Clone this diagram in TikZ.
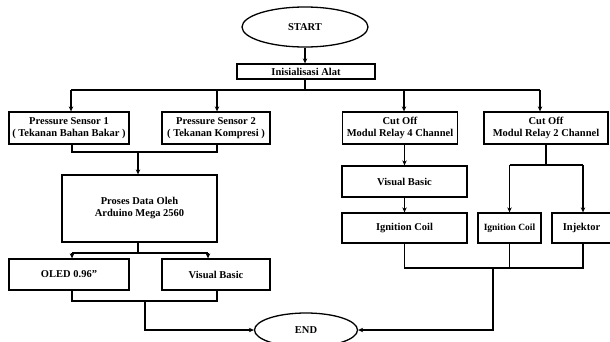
\documentclass[tikz,border=0pt]{standalone}
\usepackage{fontspec}
\setmainfont{Liberation Serif}
\usetikzlibrary{shapes.geometric,arrows.meta}
\tikzset{
  kotak/.style={draw, line width=1.3pt, align=center, inner sep=1pt, font=\bfseries\fontsize{10.5}{12}\selectfont},
  oval/.style={ellipse, draw, line width=1.3pt, inner sep=0pt, font=\bfseries\fontsize{10.5}{12}\selectfont},
  garis/.style={line width=1.6pt},
  panah/.style={garis, -{Stealth[length=5pt,width=4.5pt]}}
}
\begin{document}
\begin{tikzpicture}[x=1pt, y=-1pt, line join=miter]
\useasboundingbox (0,0) rectangle (610,341);
% blok
\node[oval, minimum width=126pt, minimum height=40pt] (start) at (305,27) {START};
\node[kotak, minimum width=138pt, minimum height=15pt] (init) at (306,71.5) {Inisialisasi Alat};
\node[kotak, minimum width=120pt, minimum height=32pt] (ps1) at (69,128) {Pressure Sensor 1\\( Tekanan Bahan Bakar )};
\node[kotak, minimum width=108pt, minimum height=32pt] (ps2) at (216,128) {Pressure Sensor 2\\( Tekanan Kompresi )};
\node[kotak, minimum width=115pt, minimum height=32pt] (co4) at (400,128) {Cut Off\\Modul Relay 4 Channel};
\node[kotak, minimum width=124pt, minimum height=32pt] (co2) at (546,128) {Cut Off\\Modul Relay 2 Channel};
\node[kotak, minimum width=155pt, minimum height=67pt] (proses) at (139.5,208.5) {Proses Data Oleh\\Arduino Mega 2560};
\node[kotak, minimum width=120pt, minimum height=31pt] (oled) at (69,274.5) {OLED 0.96''};
\node[kotak, minimum width=108pt, minimum height=31pt] (vb1) at (216,274.5) {Visual Basic};
\node[kotak, minimum width=125pt, minimum height=31pt] (vb2) at (404.5,181.5) {Visual Basic};
\node[kotak, minimum width=125pt, minimum height=30pt] (ic1) at (404.5,228) {Ignition Coil};
\node[kotak, minimum width=63pt, minimum height=30pt, font=\bfseries\fontsize{9.5}{11}\selectfont] (ic2) at (509.5,228) {Ignition Coil};
\node[kotak, minimum width=59pt, minimum height=30pt] (inj) at (581.5,228) {Injektor};
\node[oval, minimum width=103pt, minimum height=34pt] (end) at (306,330) {END};
% titik cabang
\coordinate (b1m) at (305,90);
\coordinate (b1a) at (71,90);
\coordinate (b1b) at (217,90);
\coordinate (b1c) at (404,90);
\coordinate (b1d) at (540,90);
\coordinate (b2a) at (72,152);
\coordinate (b2b) at (217,152);
\coordinate (b2m) at (138,152);
\coordinate (b3a) at (72,253);
\coordinate (b3b) at (208,253);
\coordinate (b3m) at (138,253);
\coordinate (b4a) at (72,301);
\coordinate (b4b) at (217,301);
\coordinate (b4m) at (145,301);
\coordinate (b5m) at (546,165);
\coordinate (b5a) at (509.5,165);
\coordinate (b5b) at (583,165);
\coordinate (b6m) at (493,268);
\coordinate (b6b) at (583,268);
% garis
\draw[panah] (start.south) -- (start.south |- init.north);
\draw[garis] (b1m |- init.south) -- (b1m);
\draw[garis] (b1a) -- (b1d);
\foreach \t/\n in {b1a/ps1, b1b/ps2, b1c/co4, b1d/co2}
  \draw[panah] (\t) -- (\t |- \n.north);
\draw[garis] (b2a |- ps1.south) -- (b2a) -- (b2b) -- (b2b |- ps2.south);
\draw[panah] (b2m) -- (b2m |- proses.north);
\draw[garis] (b3m |- proses.south) -- (b3m);
\draw[garis] (b3a) -- (b3b);
\draw[panah] (b3a) -- (b3a |- oled.north);
\draw[panah] (b3b) -- (b3b |- vb1.north);
\draw[garis] (b4a |- oled.south) -- (b4a) -- (b4b) -- (b4b |- vb1.south);
\draw[panah] (b4m) |- (end.west);
\draw[panah] (vb2.north |- co4.south) -- (vb2.north);
\draw[panah] (vb2.south) -- (ic1.north);
\draw[garis] (co2.south) -- (b5m);
\draw[garis] (b5a) -- (b5b);
\draw[panah] (b5a) -- (ic2.north);
\draw[panah] (b5b) -- (b5b |- inj.north);
\draw[garis] (ic1.south) -- (ic1.south |- b6m) -- (b6b) -- (b6b |- inj.south);
\draw[garis] (ic2.south) -- (ic2.south |- b6m);
\draw[panah] (b6m) |- (end.east);
\end{tikzpicture}
\end{document}
